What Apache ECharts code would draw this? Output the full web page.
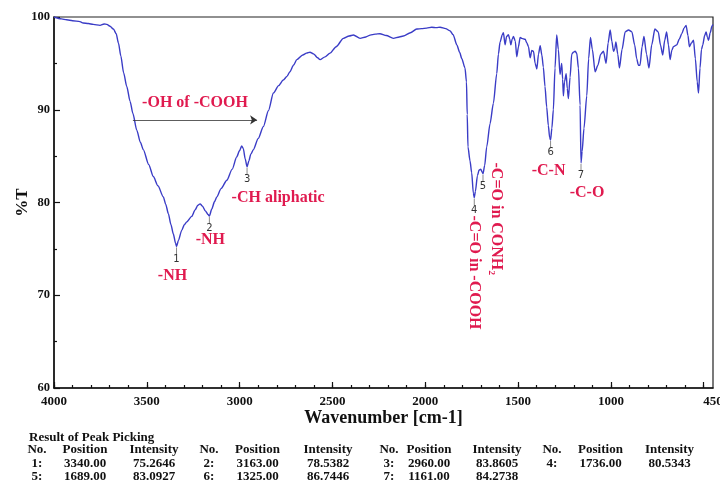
<!DOCTYPE html>
<html>
<head>
<meta charset="utf-8">
<script src="https://cdn.jsdelivr.net/npm/echarts@6/dist/echarts.min.js"></script>
<style>
  html, body { margin: 0; padding: 0; background: #fff; }
  #chart { width: 720px; height: 482px; }
</style>
</head>
<body>
<div id="chart"></div>
<script>
/*---------- data ----------*/
var wavenumbers = [
  4000, 3960, 3932, 3900, 3860, 3843, 3815, 3789, 3752, 3730, 3715, 3698, 3680, 3665, 3653,
  3640, 3625, 3608, 3590, 3575, 3554, 3535, 3519, 3490, 3465, 3440, 3411, 3398, 3384, 3370,
  3357, 3345, 3340, 3330, 3312, 3298, 3285, 3258, 3240, 3225, 3213, 3200, 3185, 3170, 3163,
  3150, 3135, 3123, 3100, 3069, 3040, 3016, 3000, 2989, 2980, 2970, 2960, 2950, 2940, 2926,
  2900, 2872, 2845, 2818, 2790, 2765, 2745, 2729, 2710, 2692, 2660, 2640, 2621, 2600, 2580,
  2567, 2540, 2513, 2480, 2441, 2410, 2387, 2351, 2320, 2297, 2270, 2244, 2210, 2172, 2140,
  2118, 2080, 2046, 2020, 1992, 1965, 1940, 1920, 1890, 1866, 1850, 1830, 1815, 1803, 1786,
  1778, 1774, 1770, 1759, 1750, 1741, 1736, 1730, 1719, 1710, 1701, 1694, 1689, 1680, 1669,
  1651, 1633, 1615, 1606, 1597, 1585, 1579, 1570, 1562, 1552, 1545, 1539, 1532, 1525, 1515,
  1507, 1498, 1489, 1480, 1462, 1453, 1444, 1435, 1426, 1417, 1408, 1399, 1390, 1381, 1372,
  1364, 1355, 1346, 1337, 1330, 1325, 1318, 1310, 1301, 1292, 1283, 1274, 1270, 1265, 1260,
  1256, 1250, 1241, 1235, 1229, 1220, 1211, 1202, 1193, 1184, 1175, 1166, 1161, 1155, 1145,
  1130, 1120, 1110, 1100, 1085, 1070, 1055, 1040, 1026, 1015, 1004, 995, 986, 980, 973,
  963, 954, 940, 923, 905, 887, 872, 861, 852, 843, 832, 822, 808, 795, 780,
  763, 745, 733, 721, 710, 700, 690, 681, 672, 663, 645, 632, 618, 606, 595,
  585, 577, 566, 555, 545, 535, 528, 520, 512, 505, 495, 487, 480, 474, 465,
  456, 450
];
var transmittance = [
  100.0, 99.8, 99.7, 99.6, 99.5, 99.35, 99.3, 99.2, 99.1, 99.25, 99.2, 99.0, 98.7, 98.2, 97.2,
  95.8, 94.0, 92.5, 90.9, 89.6, 87.8, 86.5, 85.7, 84.1, 82.8, 81.8, 80.6, 79.8, 78.8, 77.6,
  76.6, 75.6, 75.26, 75.9, 77.0, 77.6, 77.9, 78.5, 79.2, 79.7, 79.85, 79.6, 79.1, 78.7, 78.54,
  79.3, 80.1, 80.6, 81.5, 82.4, 83.6, 84.9, 85.6, 86.1, 85.8, 84.7, 83.86, 84.5, 85.2, 85.7,
  86.9, 88.2, 89.9, 91.8, 92.6, 93.2, 93.6, 94.1, 94.8, 95.4, 95.9, 96.1, 96.2, 96.0, 95.6,
  95.4, 95.7, 96.1, 96.8, 97.7, 97.95, 98.06, 97.7, 97.85, 98.05, 98.15, 98.2, 98.0, 97.7, 97.85,
  97.95, 98.3, 98.7, 98.75, 98.8, 98.9, 98.85, 98.9, 98.75, 98.5, 98.1, 97.0, 96.2, 95.5, 94.5,
  93.0, 89.5, 86.0, 84.5, 83.2, 81.0, 80.53, 81.2, 82.9, 83.5, 83.6, 83.3, 83.09, 84.0, 86.0,
  88.5, 90.7, 93.9, 96.0, 97.3, 98.1, 98.3, 97.0, 97.9, 98.1, 97.6, 97.0, 97.6, 97.9, 97.4,
  95.7, 96.8, 97.8, 97.7, 97.6, 97.2, 96.8, 95.6, 96.4, 96.3, 95.0, 94.4, 96.0, 96.9, 95.9,
  94.6, 92.5, 90.3, 88.3, 87.0, 86.74, 88.0, 90.0, 94.5, 98.06, 96.5, 93.8, 94.3, 95.0, 93.3,
  91.5, 93.0, 93.9, 92.3, 91.2, 93.5, 96.0, 96.2, 96.3, 96.1, 94.5, 90.5, 84.27, 85.5, 88.0,
  91.5, 95.5, 97.8, 96.5, 94.1, 94.8, 96.0, 96.3, 95.0, 97.2, 98.6, 97.4, 96.3, 96.5, 97.3,
  96.0, 94.5, 96.5, 98.4, 98.6, 98.4, 97.0, 95.5, 94.8, 94.8, 96.8, 97.9, 96.0, 94.5, 97.0,
  98.7, 98.4, 97.0, 95.9, 97.5, 98.4, 97.0, 95.4, 96.4, 96.8, 97.0, 97.6, 98.2, 98.8, 99.1,
  98.0, 96.8, 97.2, 97.5, 95.5, 93.0, 91.8, 94.5, 96.5, 97.0, 98.0, 98.4, 97.8, 97.5, 98.3,
  99.0, 99.2
];

// result of peak picking
var peakPositions = [3340.00, 3163.00, 2960.00, 1736.00, 1689.00, 1325.00, 1161.00];
var peakIntensities = [75.2646, 78.5382, 83.8605, 80.5343, 83.0927, 86.7446, 84.2738];
var peakLabels = ['-NH', '-NH', '-CH aliphatic', '-C=O in -COOH', '-C=O in CONH\u2082', '-C-N', '-C-O'];

// broad band marked with an arrow
var bandLabel = '-OH of -COOH';
var bandRange = [3575, 2906];
var bandLevel = 88.9;

var xLabelValues = [4000, 3500, 3000, 2500, 2000, 1500, 1000, 450];
var xMajorTicks = [4000, 3500, 3000, 2500, 2000, 1500, 1000, 500];
var xMinorTicks = [];
for (var t = 4000; t >= 500; t -= 100) xMinorTicks.push(t);

/*---------- chart ----------*/
var SERIF = "'Liberation Serif', 'Times New Roman', serif";
var RED = '#e01a4f';

var spectrum = wavenumbers.map(function (w, i) { return [w, transmittance[i]]; });
var peaks = peakPositions.map(function (p, i) { return [p, peakIntensities[i]]; });

// offsets (px) of the red annotations from each peak, and rotation
var labelPlace = [
  [-4, 29, 0], [1, 24, 0], [31, 31, 0], [0, 75, -90], [13, 45, -90], [-2, 31, 0], [6, 30, 0]
];

var chart = echarts.init(document.getElementById('chart'), null, { renderer: 'canvas' });

var option = {
  animation: false,
  backgroundColor: '#fff',
  grid: {
    left: 54, right: 7, top: 17, bottom: 94,
    show: true, borderColor: '#222', borderWidth: 1.2,
    outerBoundsMode: 'none'
  },
  xAxis: [
    {
      type: 'value', min: 450, max: 4000, inverse: true,
      axisLine: { lineStyle: { color: '#111', width: 1.5 } },
      axisTick: { inside: true, length: 6, customValues: xMajorTicks, lineStyle: { color: '#111', width: 1.2 } },
      axisLabel: {
        customValues: xLabelValues, margin: 7,
        formatter: function (v) { return String(v); },
        fontFamily: SERIF, fontWeight: 'bold', fontSize: 13, color: '#111'
      },
      splitLine: { show: false },
      name: 'Wavenumber [cm-1]', nameLocation: 'middle', nameGap: 21, nameMoveOverlap: false,
      nameTextStyle: { fontFamily: SERIF, fontWeight: 'bold', fontSize: 18, color: '#111' }
    },
    {
      type: 'value', min: 450, max: 4000, inverse: true, position: 'bottom',
      axisLine: { show: false },
      axisTick: { inside: true, length: 3, customValues: xMinorTicks, lineStyle: { color: '#111', width: 1.2 } },
      axisLabel: { show: false },
      splitLine: { show: false }
    }
  ],
  yAxis: {
    type: 'value', min: 60, max: 100, interval: 10,
    axisLine: { show: true, lineStyle: { color: '#111', width: 1.5 } },
    axisTick: { show: true, inside: true, length: 6, lineStyle: { color: '#111', width: 1.2 } },
    minorTick: { show: true, splitNumber: 2, length: 3, lineStyle: { color: '#111', width: 1.2 } },
    axisLabel: { margin: 4, fontFamily: SERIF, fontWeight: 'bold', fontSize: 12.5, color: '#111' },
    splitLine: { show: false },
    name: '%T', nameLocation: 'middle', nameGap: 23, nameRotate: 90, nameMoveOverlap: false,
    nameTextStyle: { fontFamily: SERIF, fontWeight: 'bold', fontSize: 17, color: '#111' }
  },
  series: [
    {
      name: 'spectrum',
      type: 'line',
      data: spectrum,
      showSymbol: false,
      smooth: 0.25,
      smoothMonotone: 'x',
      lineStyle: { color: '#3a3cc6', width: 1.4 },
      markLine: {
        silent: true,
        symbol: ['none', 'arrow'],
        symbolSize: 7,
        lineStyle: { color: '#333', width: 0.8, type: 'solid' },
        label: {
          show: true, position: 'middle', distance: 9,
          formatter: bandLabel,
          fontFamily: SERIF, fontWeight: 'bold', fontSize: 16, color: RED
        },
        data: [[{ coord: [bandRange[0], bandLevel] }, { coord: [bandRange[1], bandLevel] }]]
      }
    },
    {
      name: 'peaks',
      type: 'custom',
      data: peaks,
      silent: true,
      renderItem: function (params, api) {
        var p = api.coord([api.value(0), api.value(1)]);
        var i = params.dataIndex;
        var place = labelPlace[i];
        return {
          type: 'group',
          children: [
            {
              type: 'line',
              shape: { x1: p[0], y1: p[1] + 1, x2: p[0], y2: p[1] + 8 },
              style: { stroke: '#8a8a8a', lineWidth: 1 }
            },
            {
              type: 'text',
              x: p[0], y: p[1] + 12.5,
              style: {
                text: String(i + 1), align: 'center', verticalAlign: 'middle',
                fontFamily: "'DejaVu Sans', sans-serif", fontSize: 10, fill: '#333'
              }
            },
            {
              type: 'text',
              x: p[0] + place[0], y: p[1] + place[1],
              rotation: place[2] * Math.PI / 180,
              style: {
                text: peakLabels[i], align: 'center', verticalAlign: 'middle',
                fontFamily: SERIF, fontWeight: 'bold', fontSize: 16, fill: RED
              }
            }
          ]
        };
      }
    }
  ]
};

/*---------- peak picking table under the plot ----------*/
var colNo = [37, 209, 389, 552];
var colPos = [85, 257.5, 429, 600.5];
var colInt = [154, 328, 497, 669.5];
var rowY = [450, 463.5, 477];
var tableFont = 'bold 13px ' + SERIF;

function cell(txt, x, y, align) {
  return {
    type: 'text', x: x, y: y,
    style: { text: txt, font: tableFont, fill: '#111', align: align || 'center', verticalAlign: 'middle' }
  };
}

var table = [cell('Result of Peak Picking', 29, 437.5, 'left')];
for (var g = 0; g < 4; g++) {
  table.push(cell('No.', colNo[g], rowY[0]));
  table.push(cell('Position', colPos[g], rowY[0]));
  table.push(cell('Intensity', colInt[g], rowY[0]));
}
peakPositions.forEach(function (pos, i) {
  var g = i % 4, r = Math.floor(i / 4) + 1;
  table.push(cell((i + 1) + ':', colNo[g], rowY[r]));
  table.push(cell(pos.toFixed(2), colPos[g], rowY[r]));
  table.push(cell(peakIntensities[i].toFixed(4), colInt[g], rowY[r]));
});
option.graphic = { elements: table };

chart.setOption(option);
</script>
</body>
</html>
